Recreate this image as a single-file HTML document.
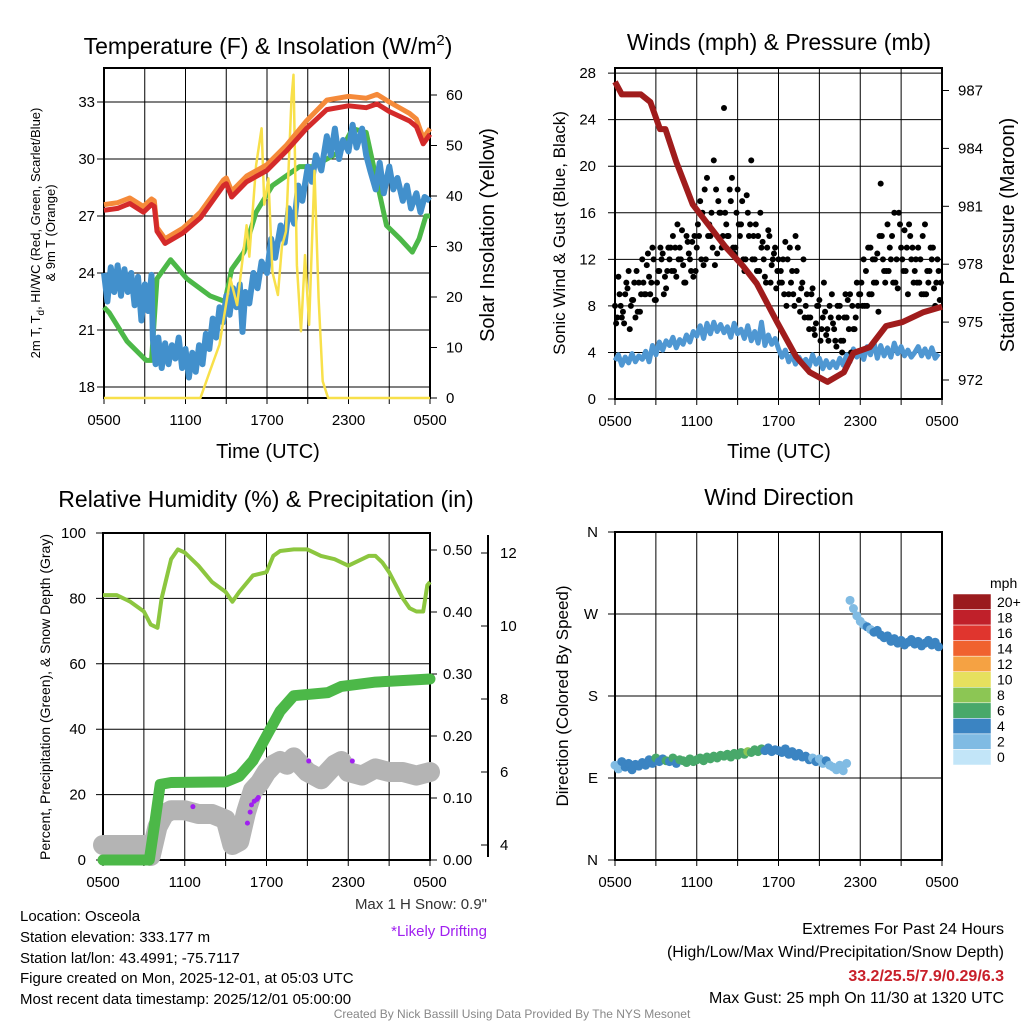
<!DOCTYPE html>
<html><head><meta charset="utf-8"><style>
html,body{margin:0;padding:0;background:#fff}
svg{display:block;font-family:"Liberation Sans",Arial,sans-serif}
</style></head><body>
<svg id="svg" width="1024" height="1024" viewBox="0 0 1024 1024" xmlns="http://www.w3.org/2000/svg">
<g id="static">
<text x="268" y="54" font-size="23" text-anchor="middle">Temperature (F) &amp; Insolation (W/m<tspan dy="-9" font-size="15">2</tspan><tspan dy="9">)</tspan></text>
<text x="779" y="50" font-size="23" text-anchor="middle">Winds (mph) &amp; Pressure (mb)</text>
<text x="266" y="507" font-size="23" text-anchor="middle">Relative Humidity (%) &amp; Precipitation (in)</text>
<text x="779" y="505" font-size="23" text-anchor="middle">Wind Direction</text>
<text x="268" y="458" font-size="20" text-anchor="middle">Time (UTC)</text>
<text x="779" y="458" font-size="20" text-anchor="middle">Time (UTC)</text>
<text transform="translate(40,233) rotate(-90)" font-size="13" text-anchor="middle">2m T, T<tspan dy="4" font-size="10">d</tspan><tspan dy="-4">, HI/WC (Red, Green, Scarlet/Blue)</tspan></text>
<text transform="translate(55,233) rotate(-90)" font-size="13" text-anchor="middle">&amp; 9m T (Orange)</text>
<text transform="translate(494,235) rotate(-90)" font-size="20" text-anchor="middle">Solar Insolation (Yellow)</text>
<text transform="translate(565,233) rotate(-90)" font-size="17" text-anchor="middle">Sonic Wind &amp; Gust (Blue, Black)</text>
<text transform="translate(1014,235) rotate(-90)" font-size="20" text-anchor="middle">Station Pressure (Maroon)</text>
<text transform="translate(50,697) rotate(-90)" font-size="14" text-anchor="middle">Percent, Precipitation (Green), &amp; Snow Depth (Gray)</text>
<text transform="translate(568,696) rotate(-90)" font-size="17" text-anchor="middle">Direction (Colored By Speed)</text>
<text x="487" y="909" font-size="15" fill="#333" text-anchor="end">Max 1 H Snow: 0.9"</text>
<text x="487" y="936" font-size="15" fill="#a020f0" text-anchor="end">*Likely Drifting</text>
<g font-size="15">
<text x="20" y="921">Location: Osceola</text>
<text x="20" y="942">Station elevation: 333.177 m</text>
<text x="20" y="963">Station lat/lon: 43.4991; -75.7117</text>
<text x="20" y="983">Figure created on Mon, 2025-12-01, at 05:03 UTC</text>
<text x="20" y="1004">Most recent data timestamp: 2025/12/01 05:00:00</text>
</g>
<g font-size="16" text-anchor="end">
<text x="1004" y="934">Extremes For Past 24 Hours</text>
<text x="1004" y="957">(High/Low/Max Wind/Precipitation/Snow Depth)</text>
<text x="1004" y="981" font-weight="bold" fill="#c8202a">33.2/25.5/7.9/0.29/6.3</text>
<text x="1004" y="1003">Max Gust: 25 mph On 11/30 at 1320 UTC</text>
</g>
<text x="512" y="1018" font-size="12" fill="#888" text-anchor="middle">Created By Nick Bassill Using Data Provided By The NYS Mesonet</text>
</g>
</svg>
<script>
// ---- Panel 1 data (hours after 0500 UTC) ----
const redH=[0,1,1.9,2.9,3.5,3.7,3.9,4.5,5.8,7.1,8.8,9.0,9.4,10.5,12.0,13.4,14.9,16.4,18.0,19.3,20.1,21.0,22.5,23.0,23.5,24];
const redV=[27.3,27.4,27.66,27.2,27.6,27.5,26.2,25.55,26.1,26.9,28.6,28.7,28.0,28.8,29.4,30.4,31.6,32.6,32.8,32.7,32.9,32.5,32.0,31.7,30.8,31.3];
const orangeV=[27.6,27.7,27.95,27.5,27.9,27.8,26.4,25.8,26.35,27.2,28.9,29.0,28.3,29.1,29.7,30.7,32.0,33.1,33.3,33.2,33.4,33.0,32.4,32.1,31.1,31.6];
const greenH=[0,0.4,1.7,3.1,3.5,3.9,4.9,6.1,7.8,8.9,9.4,10.3,11.2,12.4,14.4,15.4,17.4,18.3,19.3,20.0,20.8,21.8,22.7,23.2,23.7,24];
const greenV=[22.2,21.9,20.4,19.4,19.4,23.7,24.7,23.7,22.8,22.5,24.2,25.1,27.2,28.6,29.6,29.6,30.4,31.6,31.4,29.1,26.5,25.8,25.1,25.8,27.0,27.0];
const blueH=[0,0.25,0.5,0.75,1,1.25,1.5,1.75,2,2.25,2.5,2.75,3,3.25,3.5,3.6,3.8,4,4.25,4.5,4.75,5,5.25,5.5,5.75,6,6.25,6.5,6.75,7,7.25,7.5,7.75,8,8.25,8.5,8.75,9,9.25,9.5,9.75,10,10.2,10.4,10.7,11,11.3,11.6,12,12.3,12.6,13,13.3,13.6,14,14.3,14.6,15,15.3,15.6,16,16.4,16.7,17,17.3,17.6,18,18.3,18.6,19,19.3,19.6,20,20.3,20.6,21,21.3,21.6,22,22.3,22.6,23,23.3,23.6,24];
const blueV=[24.0,22.5,24.3,23.0,24.4,22.8,24.2,23.0,24.0,22.3,23.8,21.5,23.4,22.0,23.9,20.5,19.2,20.6,19.0,20.3,19.2,20.2,19.5,20.6,19.0,20.0,18.5,19.8,18.8,20.2,19.2,20.8,20.0,21.6,20.6,22.2,21.4,22.8,21.8,23.2,22.2,23.4,20.9,23.0,22.4,24.0,23.2,24.6,24.0,25.8,24.8,26.5,25.6,27.4,26.6,28.6,27.8,29.6,28.8,30.2,29.4,31.2,30.2,31.6,30.0,31.0,30.4,31.8,30.6,31.6,30.2,29.4,28.4,29.8,28.2,29.6,28.4,29.0,27.8,28.6,27.4,28.2,27.2,28.0,27.8];
const solarH=[0,7.1,7.8,8.5,9.3,9.8,10.5,10.7,11.2,11.6,11.8,12.1,12.4,12.8,13.1,13.4,13.8,13.95,14.2,14.5,14.8,15.1,15.5,15.8,16.1,16.5,24];
const solarV=[0,0,5.3,10.6,23.7,18.4,34.2,28,46.1,53.4,38.3,43.5,25,20.4,30,33,59.3,64,26.3,13.2,28.3,14.5,45,19.8,3.3,0,0];
const tempTicks=[18,21,24,27,30,33];
const solarTicks=[0,10,20,30,40,50,60];
const timeLabels=["0500","1100","1700","2300","0500"];
// ---- Panel 2 data (15-minute) ----
const gust=[8,10.5,7,9,11,8.5,7,10, 12,9,10.5,13,8.5,11,12.5,9.5, 12,14,10.5,13,11.5,14,12,10.5, 13,17,11.5,19,14,20.5,12.5,16, 25,14,17,12.5,18,15,11,16, 20.5,12,14,13,10.5,14.5,11.5,13, 12,10,13.5,9,11,14,8.5,10, 8,6,9.5,6.5,8.5,7,5.5,8, 6.5,4.5,8,5,7,9,6,10, 9,12,8,13,10,12.5,18.5,11, 15,12,16,9.5,13,14.5,9,12, 11,13,9,15,10,12,8,11];
const gust2=[6.5,9,7.5,10,6,8.5,11,7.5, 10,11.5,9,12,10,13,9,11, 13,11,15,12,10,13.5,11,14, 15,12,18,14,16,11.5,17,13, 16,14,19,13,15,17,12,14, 12,15,11,13.5,10,14,12,9.5, 10,12,8,13,9,11,7.5,12, 9,7,6,8,5,10,6,7, 6,8,5,7,8.5,4,6,8, 10,8,13,9,12,7.5,14,10, 11,14,10,16,12,11,15,13, 12,10,14,9,11,13,10,8.5];
const gust3=[7,8,6.5,9.5,8,10,7.5,9, 9,12.5,10,8.5,11,12,10.5,13, 11,13,12,14.5,10,12.5,13.5,11, 14,16,12,15,13,18,16,14, 15,18,13,16,14,12,17.5,15, 14,11,16,12,13,10,12.5,11, 11,9,12,10,8,13,9.5,7, 7,9,5.5,8,6,7.5,5,9, 5,7,4,9,6,8,7,9, 8,11,9,12,10,14,12,11, 13,10,12,15,11,13,14,10, 10,12,9,11,13,9.5,12,10];
const wind=[3.3,3.8,2.9,3.6,3.1,3.9,3.2,3.7, 3.4,4.1,3.2,4.6,3.8,4.9,4.2,5.0, 4.6,5.3,4.4,5.1,4.7,5.5,4.9,5.8, 5.4,6.3,5.2,6.5,5.6,6.6,5.8,6.4, 5.7,6.2,5.3,6.5,5.6,6.0,5.2,6.3, 5.0,5.8,4.8,6.6,4.6,5.5,4.7,5.2, 4.3,3.6,4.2,3.2,3.8,3.0,3.6,3.1, 3.4,2.8,3.8,3.0,3.5,2.6,3.3,2.7, 3.2,2.7,3.5,2.9,3.8,3.2,4.3,3.6, 4.1,3.4,4.5,3.8,4.9,3.5,4.6,3.7, 4.4,3.6,4.8,3.9,4.5,3.7,4.2,3.6, 4.0,4.5,3.7,4.3,3.6,4.4,3.5,3.9];
const presH=[0,0.5,1.9,2.6,3.3,3.7,4.5,5.7,6.9,8.1,9.4,10.4,11.9,13.3,14.3,15.6,16.8,17.5,18.7,19.9,21.1,22.6,24];
const presV=[987.45,986.8,986.8,986.4,985.0,985.0,983.3,981.1,980.0,978.9,977.9,977.0,975.0,973.2,972.4,971.9,972.4,973.4,973.7,974.8,975.0,975.5,975.8];
const windTicks=[0,4,8,12,16,20,24,28];
const presTicks=[972,975,978,981,984,987];
// ---- Panel 3 data ----
const rhH=[0,1,2,3,3.5,4,4.3,5,5.5,6,7,8,9,9.5,10,11,12,12.5,13,14,15,16,17,18,19,19.5,20,20.5,21,22,22.5,23,23.5,23.8,24];
const rhV=[81,81,79,76,72,71,80,92,95,94,90,85,82,79,82,87,88,93,94.5,95,95,93,92,90,92,93,93,91,88,80,77,76,76,84,85];
const precH=[0,3.4,3.8,4.2,5,9,10,11,12,13,14,16.5,17.5,20,24];
const precV=[0,0,0.06,0.122,0.125,0.126,0.135,0.16,0.2,0.24,0.265,0.27,0.28,0.287,0.292];
const snowH=[0,1.5,3,3.5,4,4.5,5,6,7,8,9,9.5,10,10.5,11,11.5,12,12.5,13,13.5,14,15,16,17,17.5,18,19,20,21,22,23,24];
const snowV=[4.0,4.0,4.0,3.7,4.5,4.85,4.95,4.95,4.85,4.85,4.7,4.0,4.1,4.9,5.5,5.7,6.0,6.2,6.3,6.2,6.4,6.0,5.8,6.2,6.3,6.0,5.9,6.1,6.0,6.0,5.9,6.0];
const driftH=[6.6,10.6,10.8,10.9,11.1,11.3,11.4,15.1,18.3];
const driftV=[5.05,4.6,4.9,5.1,5.2,5.25,5.3,6.3,6.3];
const rhTicks=[0,20,40,60,80,100];
const precTicks=["0.00","0.10","0.20","0.30","0.40","0.50"];
const snowTicks=[4,6,8,10,12];
// ---- Panel 4 data (15-minute) ----
const dir=[104,100,108,102,106,99,105,103, 107,104,110,106,112,108,111,109, 108,112,106,110,109,107,111,108, 110,112,109,113,111,114,112,115, 114,116,113,117,115,118,116,119, 118,121,119,122,120,123,119,121, 120,118,122,116,119,114,117,113, 114,110,112,108,111,106,109,104, 102,99,104,98,106, 285,276,268,262,258,256,253,250,252,247,244,246,240,243,238,241,236,239,242,237,240,235,238,241,236,239,234];
const dirSpeed=[2,2,3,4,4,3,4,4, 4,4,3,4,5,4,4,5, 4,5,4,5,6,5,6,6, 6,6,6,6,6,6,6,6, 6,6,6,6,6,6,6,7, 6,6,5,5,4,4,4,4, 4,4,4,3,4,4,4,3, 4,3,2,3,2,2,3,2, 2,2,2,2,2, 1,2,2,2,2,3,2,4,4,3,4,4,4,4,4,4,3,4,4,4,4,4,4,3,4,4,4];
const dirLabels=["N","E","S","W","N"];
const cbLabels=["20+","18","16","14","12","10","8","6","4","2","0"];
const cbColors=["#9b1b1e","#c0202a","#e0352e","#f0622f","#f5a243","#e6e05e","#8cc654","#48a86a","#3b84c2","#80bbe3","#c2e5f8"];

const NS="http://www.w3.org/2000/svg";
const svg=document.getElementById('svg');
function mk(tag,attrs,parent){const e=document.createElementNS(NS,tag);for(const k in attrs)e.setAttribute(k,attrs[k]);(parent||svg).appendChild(e);return e;}
function txt(s,x,y,size,anchor,parent,fill){const t=mk('text',{x:x,y:y,'font-size':size,'text-anchor':anchor||'middle',fill:fill||'#000'},parent);t.textContent=s;return t;}

const X1=h=>104+h*(430-104)/24, X2=h=>615+h*(942-615)/24, X3=h=>103+h*(430-103)/24;
const yT=v=>387-(v-18)*19, yS=v=>398-v*5.05;
const yW=v=>399-v*11.64, yP=v=>380-(v-972)*19.3;
const yRH=v=>860-v*3.27, yPr=v=>860-v*620, ySn=v=>845-(v-4)*36.5;
const yD=v=>860-v*(328/360);
function path(xs,ys,fx,fy){return xs.map((h,i)=>(i?'L':'M')+fx(h).toFixed(1)+','+fy(ys[i]).toFixed(1)).join('');}
const q=n=>Array.from({length:n},(_,i)=>i*0.25);

function frame(x0,x1,y0,y1,fx,name){
  const g=mk('g',{});
  
  
  for(let h=0;h<=24;h+=3){mk('line',{x1:fx(h),x2:fx(h),y1:y0,y2:y1+6,stroke:'#000','stroke-width':1},g);}
  timeLabels.forEach((s,i)=>{const t=txt(s,fx(i*6),y1+27,15,'middle',g);});
  mk('rect',{x:x0,y:y0,width:x1-x0,height:y1-y0,fill:'none',stroke:'#000','stroke-width':2},g);
  return g;
}
function hgrid(vals,fy,x0,x1,labels,g,lx){
  vals.forEach((v,i)=>{mk('line',{x1:x0-7,x2:x1,y1:fy(v),y2:fy(v),stroke:'#000','stroke-width':1},g);
    const t=txt(labels?labels[i]:String(v),lx,fy(v)+5,15,'end',g);
    
    });
}
function rticks(vals,fy,x,labels,g,lx){
  vals.forEach((v,i)=>{mk('line',{x1:x,x2:x+7,y1:fy(v),y2:fy(v),stroke:'#000','stroke-width':1},g);
    const t=txt(labels?labels[i]:String(v),lx,fy(v)+5,15,'start',g);
    
    });
}

// ---------- Panel 1 ----------
let g1=frame(104,430,68,398,X1,'temperature');
hgrid(tempTicks,yT,104,430,null,g1,95);
rticks(solarTicks,yS,430,null,g1,446);
let p;
p=mk('path',{d:path(greenH,greenV,X1,yT),fill:'none',stroke:'#4cb848','stroke-width':5,'stroke-linejoin':'round'});


p=mk('path',{d:path(blueH,blueV,X1,yT),fill:'none',stroke:'#4290cc','stroke-width':6,'stroke-linejoin':'round'});


p=mk('path',{d:path(solarH,solarV,X1,yS),fill:'none',stroke:'#f8e04a','stroke-width':2.5,'stroke-linejoin':'round'});


p=mk('path',{d:path(redH,orangeV,X1,yT),fill:'none',stroke:'#f58a3a','stroke-width':5,'stroke-linejoin':'round'});


p=mk('path',{d:path(redH,redV,X1,yT),fill:'none',stroke:'#d42a2a','stroke-width':5,'stroke-linejoin':'round'});



// ---------- Panel 2 ----------
let g2=frame(615,942,68,399,X2,'winds');
hgrid(windTicks,yW,615,942,null,g2,596);
rticks(presTicks,yP,942,null,g2,958);
p=mk('path',{d:path(q(96),wind,X2,yW),fill:'none',stroke:'#4f97d2','stroke-width':5,'stroke-linejoin':'round'});


gust.forEach((v,i)=>{const c=mk('circle',{cx:X2(i*0.25),cy:yW(v),r:3,fill:'#000'});
  
  });
gust2.forEach((v,i)=>{const c=mk('circle',{cx:X2(i*0.25+0.083),cy:yW(v),r:3,fill:'#000'});
  
  });
gust3.forEach((v,i)=>{const c=mk('circle',{cx:X2(i*0.25+0.167),cy:yW(v),r:3,fill:'#000'});
  
  });
p=mk('path',{d:path(presH,presV,X2,yP),fill:'none',stroke:'#a01c1c','stroke-width':6,'stroke-linejoin':'round'});



// ---------- Panel 3 ----------
let g3=frame(103,430,533,860,X3,'humidity');
hgrid(rhTicks,yRH,103,430,null,g3,86);
rticks(precTicks.map(Number),yPr,430,precTicks,g3,443);
let sg=mk('g',{});


mk('line',{x1:488,x2:488,y1:535,y2:857,stroke:'#000','stroke-width':2},sg);
snowTicks.forEach(v=>{mk('line',{x1:481,x2:488,y1:ySn(v),y2:ySn(v),stroke:'#000'},sg);txt(String(v),500,ySn(v)+5,15,'start',sg);});
p=mk('path',{d:path(snowH,snowV,X3,ySn),fill:'none',stroke:'#b4b4b4','stroke-width':20,'stroke-linejoin':'round','stroke-linecap':'round'});


p=mk('path',{d:path(precH,precV,X3,yPr),fill:'none',stroke:'#4cb848','stroke-width':11,'stroke-linejoin':'round','stroke-linecap':'round'});


p=mk('path',{d:path(rhH,rhV,X3,yRH),fill:'none',stroke:'#8cc63f','stroke-width':4,'stroke-linejoin':'round'});


driftH.forEach((h,i)=>{const c=mk('circle',{cx:X3(h),cy:ySn(driftV[i]),r:2.5,fill:'#a020f0'});
  
  });

// ---------- Panel 4 ----------
let g4=frame(615,942,532,860,X2,'wind-direction');
hgrid([0,90,180,270,360],yD,615,942,dirLabels,g4,598);
const colOf=s=>cbColors[10-Math.min(10,Math.round(s/2))];
dir.forEach((v,i)=>{const c=mk('circle',{cx:X2(i*0.25),cy:yD(v),r:4.5,fill:colOf(dirSpeed[i])});
  
  });
let cb=mk('g',{});


txt('mph',990,588,14,'start',cb);
const bh=171/11;
cbColors.forEach((c,i)=>{mk('rect',{x:953,y:594+i*bh,width:38,height:bh,fill:c,stroke:'#fff','stroke-width':0.5},cb);
  txt(cbLabels[i],997,594+i*bh+bh/2+5,14,'start',cb);});
</script>
</body></html>
